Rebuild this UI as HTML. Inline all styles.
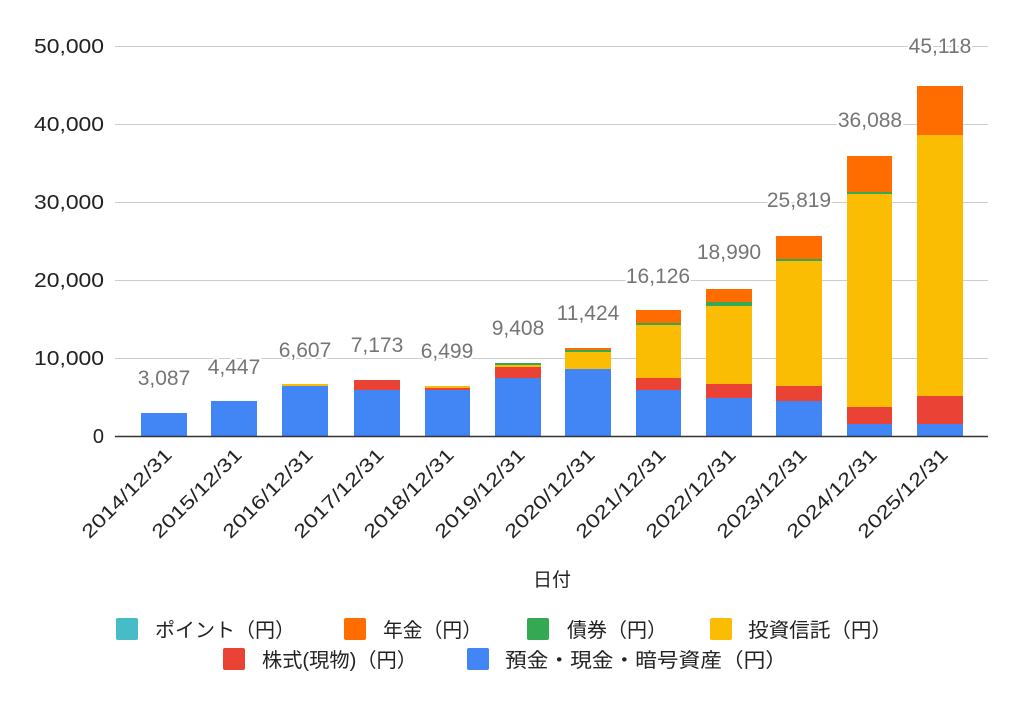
<!DOCTYPE html>
<html><head><meta charset="utf-8"><style>
html,body{margin:0;padding:0;background:#fff;}
svg{display:block;font-family:"Liberation Sans","Noto Sans CJK JP",sans-serif;}
</style></head><body>
<svg width="1024" height="706" viewBox="0 0 1024 706" xmlns="http://www.w3.org/2000/svg">
<g stroke="#cccccc" stroke-width="1">
<line x1="115" y1="46.5" x2="988" y2="46.5"/>
<line x1="115" y1="124.5" x2="988" y2="124.5"/>
<line x1="115" y1="202.5" x2="988" y2="202.5"/>
<line x1="115" y1="280.5" x2="988" y2="280.5"/>
<line x1="115" y1="358.5" x2="988" y2="358.5"/>
</g>
<g font-size="20" fill="#222" text-anchor="end">
<text x="104" y="53" textLength="70" lengthAdjust="spacingAndGlyphs">50,000</text>
<text x="104" y="131" textLength="70" lengthAdjust="spacingAndGlyphs">40,000</text>
<text x="104" y="209" textLength="70" lengthAdjust="spacingAndGlyphs">30,000</text>
<text x="104" y="287" textLength="70" lengthAdjust="spacingAndGlyphs">20,000</text>
<text x="104" y="365" textLength="70" lengthAdjust="spacingAndGlyphs">10,000</text>
<text x="104" y="443">0</text>
</g>
<g>
<rect x="141" y="413" width="46" height="23" fill="#4285f4"/>
<rect x="211" y="401" width="46" height="35" fill="#4285f4"/>
<rect x="282" y="386" width="46" height="50" fill="#4285f4"/><rect x="282" y="384" width="46" height="2" fill="#fbbc04"/>
<rect x="354" y="390" width="46" height="46" fill="#4285f4"/><rect x="354" y="380" width="46" height="10" fill="#ea4335"/>
<rect x="425" y="390" width="45" height="46" fill="#4285f4"/><rect x="425" y="388" width="45" height="2" fill="#ea4335"/><rect x="425" y="386" width="45" height="2" fill="#fbbc04"/>
<rect x="495" y="378" width="46" height="58" fill="#4285f4"/><rect x="495" y="367" width="46" height="11" fill="#ea4335"/><rect x="495" y="365" width="46" height="2" fill="#fbbc04"/><rect x="495" y="363" width="46" height="2" fill="#34a853"/>
<rect x="565" y="369" width="46" height="67" fill="#4285f4"/><rect x="565" y="352" width="46" height="17" fill="#fbbc04"/><rect x="565" y="350" width="46" height="2" fill="#34a853"/><rect x="565" y="348" width="46" height="2" fill="#ff6d01"/>
<rect x="636" y="390" width="45" height="46" fill="#4285f4"/><rect x="636" y="378" width="45" height="12" fill="#ea4335"/><rect x="636" y="325" width="45" height="53" fill="#fbbc04"/><rect x="636" y="323" width="45" height="2" fill="#34a853"/><rect x="636" y="310" width="45" height="13" fill="#ff6d01"/>
<rect x="706" y="398" width="46" height="38" fill="#4285f4"/><rect x="706" y="384" width="46" height="14" fill="#ea4335"/><rect x="706" y="306" width="46" height="78" fill="#fbbc04"/><rect x="706" y="302" width="46" height="4" fill="#34a853"/><rect x="706" y="289" width="46" height="13" fill="#ff6d01"/>
<rect x="776" y="401" width="46" height="35" fill="#4285f4"/><rect x="776" y="386" width="46" height="15" fill="#ea4335"/><rect x="776" y="261" width="46" height="125" fill="#fbbc04"/><rect x="776" y="259" width="46" height="2" fill="#34a853"/><rect x="776" y="236" width="46" height="23" fill="#ff6d01"/>
<rect x="847" y="424" width="45" height="12" fill="#4285f4"/><rect x="847" y="407" width="45" height="17" fill="#ea4335"/><rect x="847" y="194" width="45" height="213" fill="#fbbc04"/><rect x="847" y="192" width="45" height="2" fill="#34a853"/><rect x="847" y="156" width="45" height="36" fill="#ff6d01"/>
<rect x="917" y="424" width="46" height="12" fill="#4285f4"/><rect x="917" y="396" width="46" height="28" fill="#ea4335"/><rect x="917" y="135" width="46" height="261" fill="#fbbc04"/><rect x="917" y="86" width="46" height="49" fill="#ff6d01"/>
</g>
<line x1="115" y1="436.5" x2="988" y2="436.5" stroke="#333" stroke-width="1.5"/>
<g font-size="21" fill="#757575" text-anchor="middle" stroke="#fff" stroke-width="4" paint-order="stroke">
<text x="164" y="385">3,087</text>
<text x="234" y="374">4,447</text>
<text x="305" y="357">6,607</text>
<text x="377" y="352">7,173</text>
<text x="447" y="358">6,499</text>
<text x="518" y="335">9,408</text>
<text x="588" y="320">11,424</text>
<text x="658" y="283">16,126</text>
<text x="729" y="259">18,990</text>
<text x="799" y="207">25,819</text>
<text x="870" y="127">36,088</text>
<text x="940" y="53">45,118</text>
</g>
<g font-size="19" fill="#222" text-anchor="end">
<text transform="translate(173,456) rotate(-45)" textLength="118" lengthAdjust="spacingAndGlyphs">2014/12/31</text>
<text transform="translate(243,456) rotate(-45)" textLength="118" lengthAdjust="spacingAndGlyphs">2015/12/31</text>
<text transform="translate(314,456) rotate(-45)" textLength="118" lengthAdjust="spacingAndGlyphs">2016/12/31</text>
<text transform="translate(385,456) rotate(-45)" textLength="118" lengthAdjust="spacingAndGlyphs">2017/12/31</text>
<text transform="translate(455,456) rotate(-45)" textLength="118" lengthAdjust="spacingAndGlyphs">2018/12/31</text>
<text transform="translate(526,456) rotate(-45)" textLength="118" lengthAdjust="spacingAndGlyphs">2019/12/31</text>
<text transform="translate(596,456) rotate(-45)" textLength="118" lengthAdjust="spacingAndGlyphs">2020/12/31</text>
<text transform="translate(667,456) rotate(-45)" textLength="118" lengthAdjust="spacingAndGlyphs">2021/12/31</text>
<text transform="translate(737,456) rotate(-45)" textLength="118" lengthAdjust="spacingAndGlyphs">2022/12/31</text>
<text transform="translate(808,456) rotate(-45)" textLength="118" lengthAdjust="spacingAndGlyphs">2023/12/31</text>
<text transform="translate(878,456) rotate(-45)" textLength="118" lengthAdjust="spacingAndGlyphs">2024/12/31</text>
<text transform="translate(949,456) rotate(-45)" textLength="118" lengthAdjust="spacingAndGlyphs">2025/12/31</text>
</g>
<text x="552" y="586" font-size="19" fill="#222" text-anchor="middle">日付</text>
<g font-size="20" fill="#222">
<rect x="116" y="618" width="22" height="22" rx="2" fill="#46bdc6"/><text x="155" y="637" textLength="140" lengthAdjust="spacingAndGlyphs">ポイント（円）</text>
<rect x="344" y="618" width="22" height="22" rx="2" fill="#ff6d01"/><text x="383" y="637" textLength="99" lengthAdjust="spacingAndGlyphs">年金（円）</text>
<rect x="527" y="618" width="22" height="22" rx="2" fill="#34a853"/><text x="567" y="637" textLength="100" lengthAdjust="spacingAndGlyphs">債券（円）</text>
<rect x="710" y="618" width="22" height="22" rx="2" fill="#fbbc04"/><text x="748" y="637" textLength="144" lengthAdjust="spacingAndGlyphs">投資信託（円）</text>
<rect x="223" y="648" width="22" height="22" rx="2" fill="#ea4335"/><text x="262" y="667" textLength="155" lengthAdjust="spacingAndGlyphs">株式(現物)（円）</text>
<rect x="467" y="648" width="22" height="22" rx="2" fill="#4285f4"/><text x="505" y="667" textLength="282" lengthAdjust="spacingAndGlyphs">預金・現金・暗号資産（円）</text>
</g>
</svg>
</body></html>
